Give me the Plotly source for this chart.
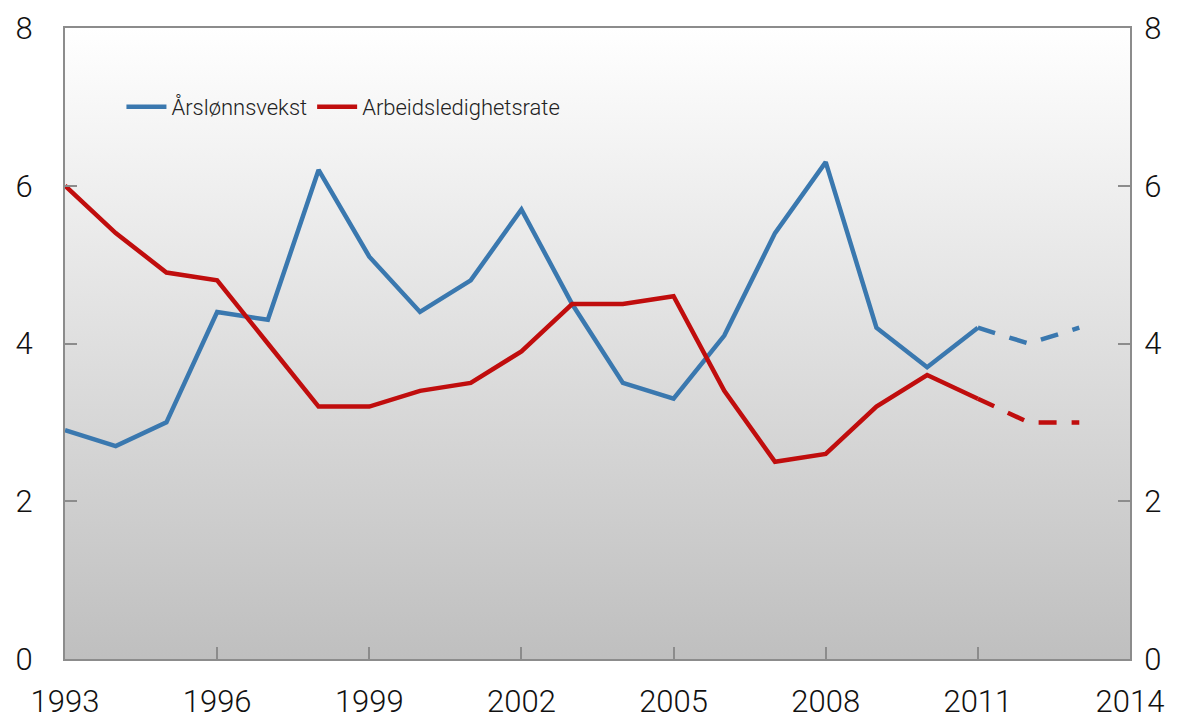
import plotly.graph_objects as go

years = list(range(1993, 2014))
wage_growth = [2.9, 2.7, 3.0, 4.4, 4.3, 6.2, 5.1, 4.4, 4.8, 5.7, 4.5,
               3.5, 3.3, 4.1, 5.4, 6.3, 4.2, 3.7, 4.2, 4.0, 4.2]
unemployment = [6.0, 5.4, 4.9, 4.8, 4.0, 3.2, 3.2, 3.4, 3.5, 3.9, 4.5,
                4.5, 4.6, 3.4, 2.5, 2.6, 3.2, 3.6, 3.3, 3.0, 3.0]
last_actual = 2011  # dashed from here on (projection)

x_range = [1993, 2014]
y_range = [0, 8]
x_ticks = list(range(1993, 2015, 3))
y_ticks = [0, 2, 4, 6, 8]

BLUE = "#3A78AF"
RED = "#C00D0D"
AXIS = "#8C8C8C"

n_act = years.index(last_actual) + 1

fig = go.Figure()

# background gradient (white at top, grey at bottom)
fig.add_trace(go.Scatter(
    x=[x_range[0], x_range[1], x_range[1], x_range[0], x_range[0]],
    y=[y_range[0], y_range[0], y_range[1], y_range[1], y_range[0]],
    mode="lines", line=dict(width=0), fill="toself",
    fillgradient=dict(type="vertical", colorscale=[[0, "#BFBFBF"], [1, "#FFFFFF"]]),
    hoverinfo="skip", showlegend=False,
))

fig.add_trace(go.Scatter(x=years[:n_act], y=wage_growth[:n_act], mode="lines",
                         name="Årslønnsvekst", line=dict(color=BLUE, width=4.5)))
fig.add_trace(go.Scatter(x=years[:n_act], y=unemployment[:n_act], mode="lines",
                         name="Arbeidsledighetsrate", line=dict(color=RED, width=4.5)))
fig.add_trace(go.Scatter(x=years[n_act - 1:], y=wage_growth[n_act - 1:], mode="lines",
                         showlegend=False, line=dict(color=BLUE, width=4.5, dash="18px,15px")))
fig.add_trace(go.Scatter(x=years[n_act - 1:], y=unemployment[n_act - 1:], mode="lines",
                         showlegend=False, line=dict(color=RED, width=4.5, dash="18px,15px")))

# invisible trace to bring the right axis up
fig.add_trace(go.Scatter(x=[x_range[0]], y=[y_range[0]], yaxis="y2", mode="markers",
                         marker=dict(opacity=0), showlegend=False, hoverinfo="skip"))

tick_font = dict(family="Roboto", size=31, color="#111111", weight=300)

# page body adds an 8px offset, so the figure is 8px smaller than the window
fig.update_layout(
    width=1177, height=712,
    margin=dict(l=57, r=55, t=20, b=61),
    paper_bgcolor="white", plot_bgcolor="white",
    font=dict(family="Roboto", color="#222222"),
    legend=dict(orientation="h", x=0.053, y=0.875, yanchor="middle", xanchor="left",
                bgcolor="rgba(0,0,0,0)",
                font=dict(size=22, color="#222222", weight=300),
                itemwidth=40, tracegroupgap=0),
    xaxis=dict(range=x_range, tickvals=x_ticks, ticks="inside", ticklen=12,
               tickcolor=AXIS, tickwidth=2, showgrid=False, zeroline=False,
               showline=True, linecolor=AXIS, linewidth=2, mirror=True,
               tickfont=tick_font, ticklabelstandoff=14, automargin=False),
    yaxis=dict(range=y_range, tickvals=y_ticks, ticks="inside", ticklen=12,
               tickcolor=AXIS, tickwidth=2, showgrid=False, zeroline=False,
               showline=True, linecolor=AXIS, linewidth=2,
               tickfont=tick_font, ticklabelstandoff=24, automargin=False),
    yaxis2=dict(range=y_range, tickvals=y_ticks, overlaying="y", side="right",
                ticks="inside", ticklen=12, tickcolor=AXIS, tickwidth=2,
                showgrid=False, zeroline=False, showline=True, linecolor=AXIS,
                linewidth=2, tickfont=tick_font, ticklabelstandoff=6,
                automargin=False),
    showlegend=True,
)

fig.write_html("out.html")
